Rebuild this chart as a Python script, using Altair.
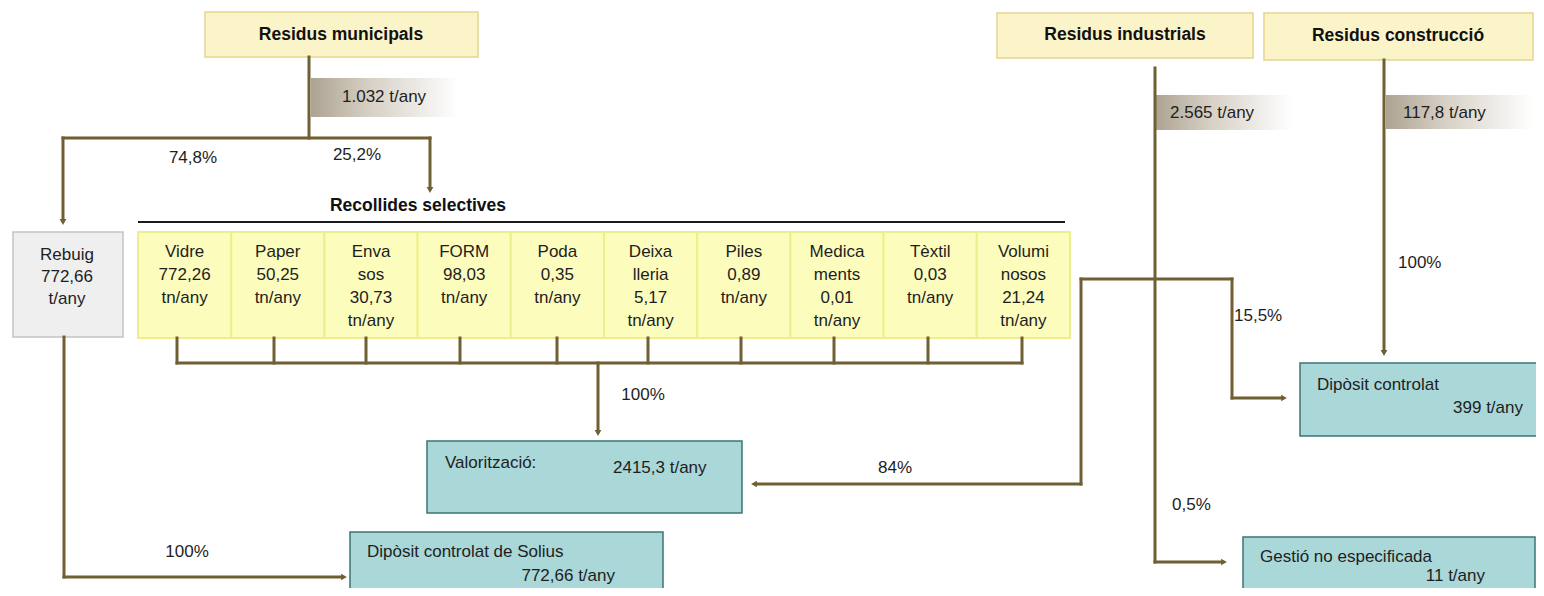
import altair as alt
import pandas as pd

# ---------------- content ----------------
sources = ["Residus municipals", "Residus industrials", "Residus construcció"]
source_amounts = ["1.032 t/any", "2.565 t/any", "117,8 t/any"]

cell_names = ["Vidre", "Paper", "Enva\nsos", "FORM", "Poda", "Deixa\nlleria",
              "Piles", "Medica\nments", "Tèxtil", "Volumi\nnosos"]
cell_values = [772.26, 50.25, 30.73, 98.03, 0.35, 5.17, 0.89, 0.01, 0.03, 21.24]
cell_unit = "tn/any"
selective_title = "Recollides selectives"

rebuig_lines = ["Rebuig", "772,66", "t/any"]
municipal_split = ["74,8%", "25,2%"]
industrial_split = ["84%", "15,5%", "0,5%"]
full_flows = ["100%", "100%", "100%"]  # selectives->valorització, rebuig->Solius, construcció->dipòsit

destinations = ["Valorització:", "Dipòsit controlat de Solius", "Dipòsit controlat", "Gestió  no especificada"]
destination_amounts = ["2415,3 t/any", "772,66 t/any", "399 t/any", "11 t/any"]

# ---------------- layout (page pixels) ----------------
W, H = 1528, 580
LINE = "#6E6033"
TXT = "#1e1e1e"
FONT = "Liberation Sans"

src_boxes = [(205, 12, 478, 57), (997, 13, 1253, 58), (1264, 13, 1533, 60)]
src_label_xy = [(341, 35), (1125, 35), (1398, 36)]
amount_boxes = [(311, 78, 458, 117), (1156, 95, 1292, 130), (1386, 95, 1532, 129)]
amount_text_xy = [(342, 97), (1170, 113), (1403, 113)]

cell_x0, cell_x1, cell_y0, cell_y1 = 138, 1070, 232, 338
tick_x = [177, 274, 366, 460, 557, 648, 741, 834, 928, 1022]

dest_boxes = [(427, 441, 742, 513), (350, 532, 663, 600), (1300, 363, 1541, 436), (1243, 537, 1535, 600)]
dest_name_xy = [(445, 463), (367, 552), (1317, 385), (1260, 557)]
dest_amount_xy = [(613, 468, "left"), (615, 576, "right"), (1523, 408, "right"), (1485, 576, "right")]

xs = alt.Scale(domain=[8, 8 + W], nice=False, zero=False)
ys = alt.Scale(domain=[8, 8 + H], nice=False, zero=False, reverse=True)


def X(f):
    return alt.X(f, type="quantitative", scale=xs, axis=None)


def Y(f):
    return alt.Y(f, type="quantitative", scale=ys, axis=None)


# ---------------- boxes ----------------
rects = []
for (x0, y0, x1, y1) in src_boxes:
    rects.append(dict(x0=x0, y0=y0, x1=x1, y1=y1, fill="#FCF4C9", stroke="#E4D58E", sw=1.5))
n = len(cell_names)
cw = (cell_x1 - cell_x0) / n
for i in range(n):
    rects.append(dict(x0=cell_x0 + i * cw, y0=cell_y0, x1=cell_x0 + (i + 1) * cw, y1=cell_y1,
                      fill="#FCFCBD", stroke="#EEEE8E", sw=2))
rects.append(dict(x0=13, y0=232, x1=123, y1=337, fill="#EFEFEF", stroke="#C4C4C4", sw=1.5))
for (x0, y0, x1, y1) in dest_boxes:
    rects.append(dict(x0=x0, y0=y0, x1=x1, y1=y1, fill="#AAD7D8", stroke="#3A7677", sw=1.5))
rects_df = pd.DataFrame(rects)

box_layer = alt.Chart(rects_df).mark_rect().encode(
    x=X("x0"), x2="x1", y=Y("y0"), y2="y1",
    color=alt.Color("fill:N", scale=None),
    stroke=alt.Stroke("stroke:N", scale=None),
    strokeWidth=alt.StrokeWidth("sw:Q", scale=None),
)

grad = alt.LinearGradient(
    gradient="linear", x1=0, x2=1, y1=0, y2=0,
    stops=[alt.GradientStop(color="#AEA392", offset=0),
           alt.GradientStop(color="#D6D0C5", offset=0.4),
           alt.GradientStop(color="#FFFFFF", offset=1)],
)
amt_df = pd.DataFrame([dict(x0=a, y0=b, x1=c, y1=d) for (a, b, c, d) in amount_boxes])
amount_layer = alt.Chart(amt_df).mark_rect(color=grad).encode(
    x=X("x0"), x2="x1", y=Y("y0"), y2="y1")

# ---------------- connector lines ----------------
segs = [
    (309, 57, 309, 138), (63, 138, 430, 138), (63, 138, 63, 220), (430, 138, 430, 188),
    (64, 337, 64, 577), (64, 577, 342, 577),
    (177, 363, 1022, 363), (598, 363, 598, 431),
    (1155, 68, 1155, 562), (1155, 562, 1222, 562),
    (1081, 279, 1232, 279), (1081, 279, 1081, 484), (1081, 484, 756, 484),
    (1232, 279, 1232, 398), (1232, 398, 1282, 398),
    (1384, 60, 1384, 351),
]
for tx in tick_x:
    segs.append((tx, cell_y1, tx, 363))
seg_df = pd.DataFrame(segs, columns=["x0", "y0", "x1", "y1"])
line_layer = alt.Chart(seg_df).mark_rule(color=LINE, strokeWidth=3, strokeCap="square").encode(
    x=X("x0"), x2="x1", y=Y("y0"), y2="y1")

black_df = pd.DataFrame([dict(x0=138, y0=222, x1=1065, y1=222)])
black_layer = alt.Chart(black_df).mark_rule(color="#1a1a1a", strokeWidth=2).encode(
    x=X("x0"), x2="x1", y=Y("y0"), y2="y1")

arrows = pd.DataFrame([
    dict(x=63, y=222, shape="triangle-down"),
    dict(x=430, y=190, shape="triangle-down"),
    dict(x=598, y=433, shape="triangle-down"),
    dict(x=1384, y=353, shape="triangle-down"),
    dict(x=344, y=577, shape="triangle-right"),
    dict(x=1224, y=562, shape="triangle-right"),
    dict(x=1284, y=398, shape="triangle-right"),
    dict(x=754, y=484, shape="triangle-left"),
])
arrow_layer = alt.Chart(arrows).mark_point(filled=True, opacity=1, size=45, color=LINE).encode(
    x=X("x"), y=Y("y"), shape=alt.Shape("shape:N", scale=None))

# ---------------- texts ----------------
bold_rows = [dict(x=x, y=y, text=t) for (x, y), t in zip(src_label_xy, sources)]
bold_rows.append(dict(x=418, y=206, text=selective_title))
bold_layer = alt.Chart(pd.DataFrame(bold_rows)).mark_text(
    font=FONT, fontSize=17.5, fontWeight="bold", color="#111", align="center", baseline="middle"
).encode(x=X("x"), y=Y("y"), text="text:N")

center_rows = []
for i, (name, val) in enumerate(zip(cell_names, cell_values)):
    lines = name.split("\n") + [f"{val:.2f}".replace(".", ","), cell_unit]
    cx = cell_x0 + (i + 0.5) * cw
    for j, ln in enumerate(lines):
        center_rows.append(dict(x=cx, y=252 + j * 23, text=ln))
for j, ln in enumerate(rebuig_lines):
    center_rows.append(dict(x=67, y=255 + j * 22, text=ln))
center_rows += [
    dict(x=193, y=158, text=municipal_split[0]),
    dict(x=357, y=155, text=municipal_split[1]),
    dict(x=895, y=468, text=industrial_split[0]),
    dict(x=187, y=552, text=full_flows[1]),
    dict(x=643, y=395, text=full_flows[0]),
]
center_layer = alt.Chart(pd.DataFrame(center_rows)).mark_text(
    font=FONT, fontSize=17, color=TXT, align="center", baseline="middle"
).encode(x=X("x"), y=Y("y"), text="text:N")

left_rows = [dict(x=x, y=y, text=t) for (x, y), t in zip(amount_text_xy, source_amounts)]
left_rows += [dict(x=x, y=y, text=t) for (x, y), t in zip(dest_name_xy, destinations)]
left_rows += [
    dict(x=1234, y=316, text=industrial_split[1]),
    dict(x=1172, y=505, text=industrial_split[2]),
    dict(x=1398, y=263, text=full_flows[2]),
]
right_rows = []
for (x, y, al), t in zip(dest_amount_xy, destination_amounts):
    (left_rows if al == "left" else right_rows).append(dict(x=x, y=y, text=t))

left_layer = alt.Chart(pd.DataFrame(left_rows)).mark_text(
    font=FONT, fontSize=17, color=TXT, align="left", baseline="middle"
).encode(x=X("x"), y=Y("y"), text="text:N")
right_layer = alt.Chart(pd.DataFrame(right_rows)).mark_text(
    font=FONT, fontSize=17, color=TXT, align="right", baseline="middle"
).encode(x=X("x"), y=Y("y"), text="text:N")

chart = alt.layer(
    amount_layer, box_layer, line_layer, black_layer, arrow_layer,
    bold_layer, center_layer, left_layer, right_layer,
).properties(
    width=W, height=H, padding=0,
    autosize=alt.AutoSizeParams(type="none"),
    background="white",
).configure_view(stroke=None)

chart.save("out.html", embed_options={"renderer": "svg", "actions": False})
